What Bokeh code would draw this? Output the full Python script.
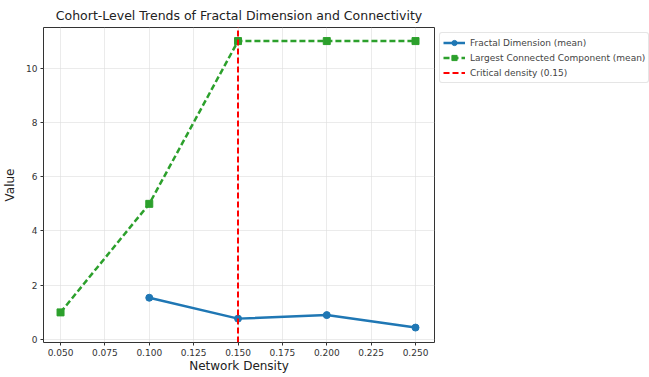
import math
from bokeh.plotting import figure
from bokeh.models import Legend, LegendItem, FixedTicker, PrintfTickFormatter, Range1d
from bokeh.embed import file_html
from bokeh.resources import INLINE

density_fd = [0.10, 0.15, 0.20, 0.25]
fractal_mean = [1.54, 0.77, 0.90, 0.44]
density_lcc = [0.05, 0.10, 0.15, 0.20, 0.25]
lcc_mean = [1, 5, 11, 11, 11]
critical_density = 0.15
x_ticks = [0.05, 0.075, 0.1, 0.125, 0.15, 0.175, 0.2, 0.225, 0.25]
y_ticks = [0, 2, 4, 6, 8, 10]

FONT = "DejaVu Sans"
Y_LO, Y_HI = -0.11, 11.5

p = figure(width=641, height=369, frame_width=391, frame_height=315,
           output_backend="svg", toolbar_location=None,
           x_range=Range1d(0.0404, 0.2607), y_range=Range1d(Y_LO, Y_HI),
           title="Cohort-Level Trends of Fractal Dimension and Connectivity",
           min_border_left=5, min_border_top=23, min_border_bottom=0, min_border_right=0)

p.title.text_font = FONT
p.title.text_font_size = "12.5px"
p.title.text_font_style = "normal"
p.title.align = "center"
p.title.text_color = "#222222"

blue = "#1f77b4"
green = "#2ca02c"

r1l = p.line(density_fd, fractal_mean, line_color=blue, line_width=2.5)
r1m = p.scatter(density_fd, fractal_mean, marker="circle", size=7, color=blue)
r2l = p.line(density_lcc, lcc_mean, line_color=green, line_width=2.5, line_dash="6 3")
r2m = p.scatter(density_lcc, lcc_mean, marker="square", size=7, color=green)
r3 = p.ray(x=[critical_density], y=[Y_LO], length=0, angle=math.pi / 2,
           line_color="red", line_width=2, line_dash="6 3")

legend = Legend(items=[
    LegendItem(label="Fractal Dimension (mean)", renderers=[r1l, r1m]),
    LegendItem(label="Largest Connected Component (mean)", renderers=[r2l, r2m]),
    LegendItem(label="Critical density (0.15)", renderers=[r3]),
], location="top_left")
legend.label_text_font = FONT
legend.label_text_font_size = "9px"
legend.label_height = 13
legend.glyph_height = 13
legend.glyph_width = 22
legend.spacing = 2
legend.padding = 3
legend.margin = 5
legend.border_line_color = "#cccccc"
legend.border_radius = 3
legend.label_standoff = 5
p.add_layout(legend, "right")

p.xaxis.ticker = FixedTicker(ticks=x_ticks)
p.xaxis.formatter = PrintfTickFormatter(format="%.3f")
p.yaxis.ticker = FixedTicker(ticks=y_ticks)
for ax in (p.xaxis, p.yaxis):
    ax.major_label_text_font = FONT
    ax.major_label_text_font_size = "9px"
    ax.major_label_text_color = "#333333"
    ax.axis_label_text_font = FONT
    ax.axis_label_text_font_size = "12px"
    ax.axis_label_text_font_style = "normal"
    ax.axis_label_text_color = "#222222"
    ax.axis_line_color = None
    ax.minor_tick_line_color = None
    ax.major_tick_line_color = "#333333"
    ax.major_tick_in = 0
    ax.major_tick_out = 3
    ax.major_label_standoff = 3
p.xaxis.axis_label = "Network Density"
p.yaxis.axis_label = "Value"
p.xaxis.axis_label_standoff = 0
p.yaxis.axis_label_standoff = 6

p.outline_line_color = "#333333"
p.outline_line_width = 1
p.grid.grid_line_color = "#dddddd"
p.grid.grid_line_alpha = 0.6

open("out.html", "w").write(file_html(p, INLINE))
